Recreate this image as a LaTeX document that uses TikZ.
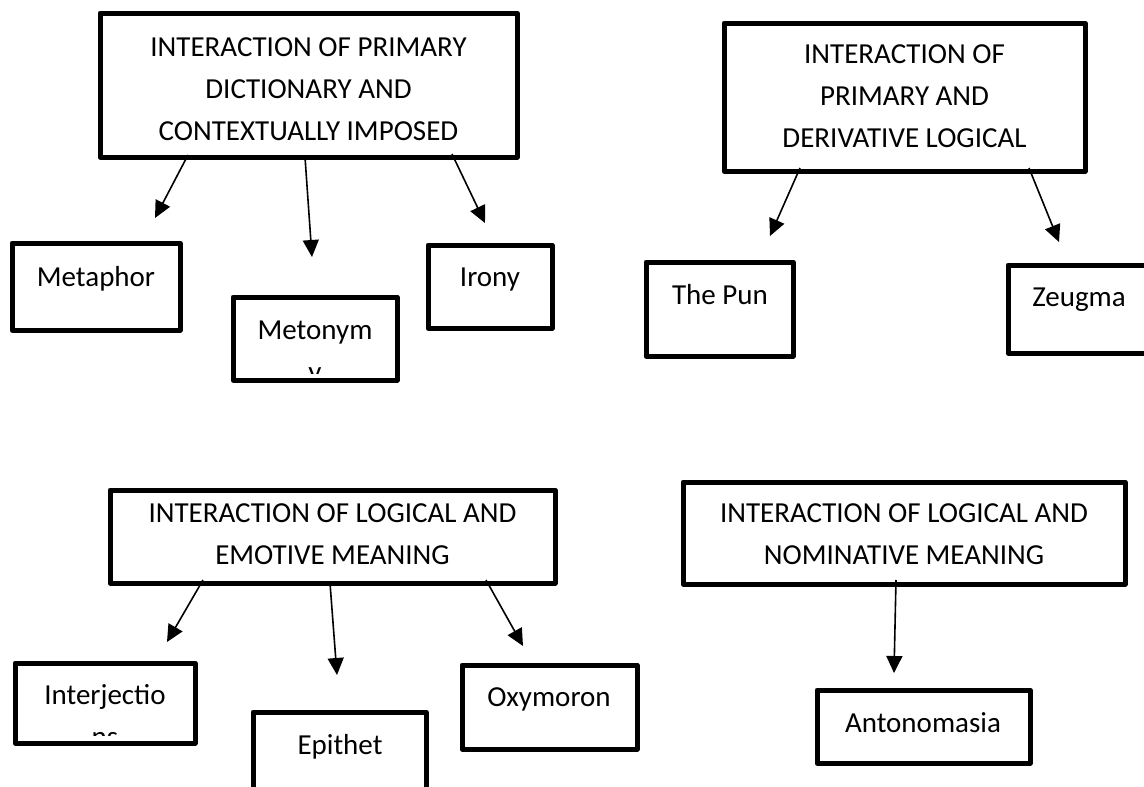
\documentclass[tikz,border=0pt]{standalone}
\usepackage{fontspec}
\setmainfont{Carlito}
\usetikzlibrary{arrows.meta,fit}
\tikzset{
  box/.style={draw, line width=5pt, line join=round, inner sep=0pt, outer sep=0pt, fit={#1}},
  hdr/.style={align=center, inner sep=0pt, font=\fontsize{29pt}{42pt}\selectfont},
  lbl/.style={anchor=base, inner sep=0pt, font=\fontsize{29pt}{42pt}\selectfont},
  arr/.style={line width=1.6pt, -{Triangle[length=17pt,width=16pt]}}
}
\begin{document}
\begin{tikzpicture}[x=1pt,y=-1pt]
\clip (0,0) rectangle (1144,787);
\fill[white] (0,0) rectangle (1144,787);
% ---------- group 1 ----------
\node[box={(100,13) (517,157)}] (b1) {};
\node[hdr] (t1) at (308.5,89.5) {INTERACTION OF PRIMARY\\DICTIONARY AND\\CONTEXTUALLY IMPOSED};
\node[box={(12,243) (180,330)}] (metaphor) {};
\node[lbl] (tmetaphor) at (96,286) {Metaphor};
\node[box={(233,297) (397,380)}] (metonym) {};
\node[lbl] (tmetonym) at (315,339) {Metonym};
\begin{scope}
\clip (236,300) rectangle (394,373);
\node[lbl] (tmetonym2) at (315,381) {y};
\end{scope}
\node[box={(428,245) (552,328)}] (irony) {};
\node[lbl] (tirony) at (490,286) {Irony};
\coordinate (a1e) at (155,218);
\coordinate (a2e) at (312,257);
\coordinate (a3e) at (485,223);
\draw[arr] ([xshift=88pt,yshift=2pt]b1.south west) -- (a1e);
\draw[arr] ([xshift=205pt]b1.south west) -- (a2e);
\draw[arr] ([xshift=352pt,yshift=3pt]b1.south west) -- (a3e);
% ---------- group 2 ----------
\node[box={(724,23) (1085,171)}] (b2) {};
\node[hdr] (t2) at (904.5,96) {INTERACTION OF\\PRIMARY AND\\DERIVATIVE LOGICAL};
\node[box={(646,262) (793,356)}] (pun) {};
\node[lbl] (tpun) at (720,304) {The Pun};
\node[box={(1008,265) (1150,353)}] (zeugma) {};
\node[lbl] (tzeugma) at (1079,306) {Zeugma};
\coordinate (a4e) at (770,236);
\coordinate (a5e) at (1059,242);
\draw[arr] ([xshift=76pt,yshift=3pt]b2.south west) -- (a4e);
\draw[arr] ([xshift=305pt,yshift=3pt]b2.south west) -- (a5e);
% ---------- group 3 ----------
\node[box={(110,490) (555,583)}] (b3) {};
\node[hdr] (t3) at (332.5,534) {INTERACTION OF LOGICAL AND\\EMOTIVE MEANING};
\node[box={(15,663) (195,743)}] (interj) {};
\node[lbl] (tinterj) at (105,704) {Interjectio};
\begin{scope}
\clip (18,666) rectangle (192,735);
\node[lbl] (tinterj2) at (105,746) {ns};
\end{scope}
\node[box={(253,712) (426,800)}] (epithet) {};
\node[lbl] (tepithet) at (340,754) {Epithet};
\node[box={(462,665) (637,749)}] (oxy) {};
\node[lbl] (toxy) at (549,706) {Oxymoron};
\coordinate (a6e) at (167,642);
\coordinate (a7e) at (337,675);
\coordinate (a8e) at (523,646);
\draw[arr] ([xshift=93pt,yshift=3pt]b3.south west) -- (a6e);
\draw[arr] ([xshift=220pt]b3.south west) -- (a7e);
\draw[arr] ([xshift=376pt,yshift=3pt]b3.south west) -- (a8e);
% ---------- group 4 ----------
\node[box={(683,482) (1125,584)}] (b4) {};
\node[hdr] (t4) at (904,534) {INTERACTION OF LOGICAL AND\\NOMINATIVE MEANING};
\node[box={(817,690) (1030,763)}] (anton) {};
\node[lbl] (tanton) at (923,732) {Antonomasia};
\coordinate (a9e) at (894,673);
\draw[arr] ([xshift=213pt,yshift=4pt]b4.south west) -- (a9e);
\end{tikzpicture}
\end{document}
